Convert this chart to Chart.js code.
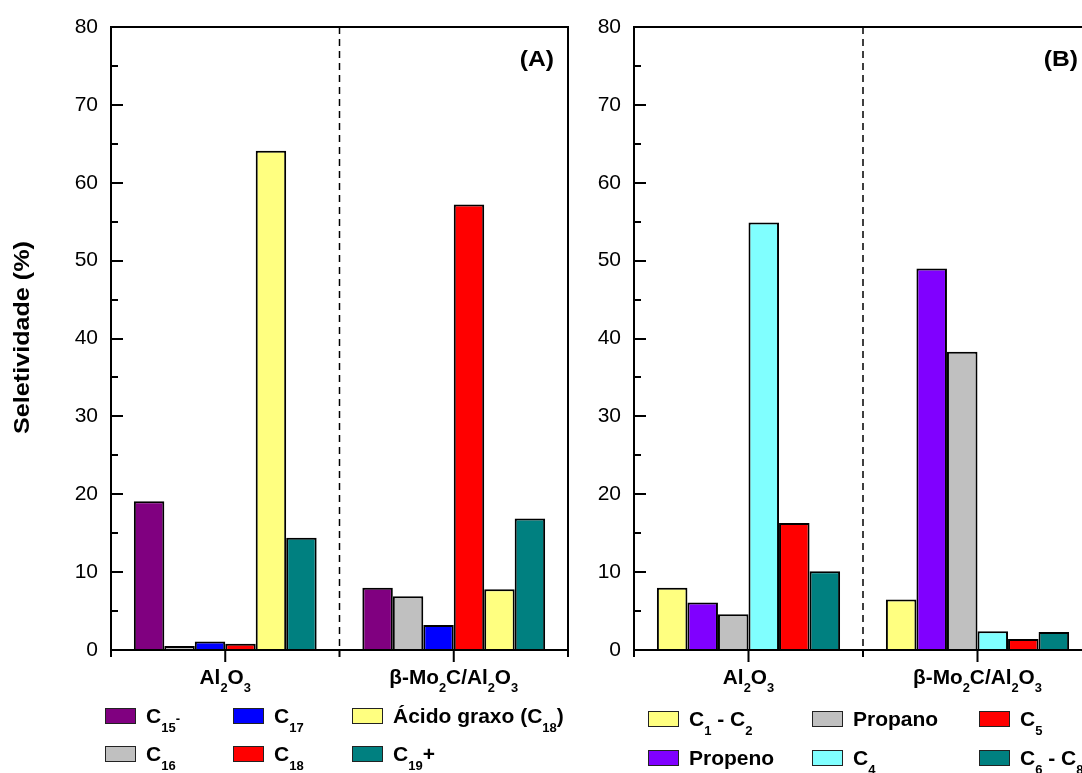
<!DOCTYPE html>
<html>
<head>
<meta charset="utf-8">
<script src="https://cdn.jsdelivr.net/npm/chart.js@4"></script>
<style>
  html, body { margin: 0; padding: 0; background: #fff; }
  body { width: 1082px; height: 773px; overflow: hidden; position: relative; }
  canvas { position: absolute; top: 0; }
  #chartA { left: 0; }
  #chartB { left: 572px; }
</style>
</head>
<body>
<canvas id="chartA" width="572" height="773"></canvas>
<canvas id="chartB" width="530" height="773"></canvas>
<script>
// categories (markup: _{..} subscript, ^{..} raised small text)
const catalysts = ['Al_{2}O_{3}', 'β-Mo_{2}C/Al_{2}O_{3}'];
const yTicks = [0, 10, 20, 30, 40, 50, 60, 70, 80];

// (A) liquid products, selectivity %
const seriesA = ['C_{15}^{-}', 'C_{16}', 'C_{17}', 'C_{18}', 'Ácido graxo (C_{18})', 'C_{19}+'];
const c15A = [19.1, 8.0];
const c16A = [0.5, 6.9];
const c17A = [1.1, 3.2];
const c18A = [0.8, 57.2];
const acidoA = [64.1, 7.8];
const c19A = [14.4, 16.9];

// (B) gas products, selectivity %
const seriesB = ['C_{1} - C_{2}', 'Propeno', 'Propano', 'C_{4}', 'C_{5}', 'C_{6} - C_{8}'];
const c1c2B = [8.0, 6.5];
const propenoB = [6.1, 49.0];
const propanoB = [4.6, 38.3];
const c4B = [54.9, 2.4];
const c5B = [16.3, 1.4];
const c6c8B = [10.1, 2.3];

const colorsA = ['#800080', '#c0c0c0', '#0000ff', '#ff0000', '#ffff80', '#008080'];
const colorsB = ['#ffff80', '#8000ff', '#c0c0c0', '#80ffff', '#ff0000', '#008080'];

const FONT = '"Liberation Sans", Arial, sans-serif';

function parseRich(s) {
  const out = [];
  const re = /([_^])\{([^}]*)\}/g;
  let last = 0, m;
  while ((m = re.exec(s))) {
    if (m.index > last) out.push({t: s.slice(last, m.index), m: 'n'});
    out.push({t: m[2], m: m[1] === '_' ? 'sub' : 'sup'});
    last = re.lastIndex;
  }
  if (last < s.length) out.push({t: s.slice(last), m: 'n'});
  return out;
}

// draws text with subscripts; align left/center/right, sx = horizontal stretch
function drawRich(ctx, s, x, y, size, bold, align, sx) {
  sx = sx || 1;
  const parts = parseRich(s);
  const w = bold ? 'bold ' : '';
  const small = size * 0.62;
  let total = 0;
  parts.forEach(p => {
    ctx.font = w + (p.m === 'n' ? size : small) + 'px ' + FONT;
    p.w = ctx.measureText(p.t).width;
    total += p.w;
  });
  ctx.save();
  ctx.translate(x, y);
  ctx.scale(sx, 1);
  let cx = align === 'center' ? -total / 2 : align === 'right' ? -total : 0;
  ctx.fillStyle = '#000';
  ctx.textAlign = 'left';
  ctx.textBaseline = 'alphabetic';
  parts.forEach(p => {
    ctx.font = w + (p.m === 'n' ? size : small) + 'px ' + FONT;
    const dy = p.m === 'sub' ? size * 0.42 : 0;
    ctx.fillText(p.t, cx, dy);
    cx += p.w;
  });
  ctx.restore();
  return total;
}

function panelPlugin(cfg) {
  return {
    id: 'panel',
    afterDraw(chart) {
      const ctx = chart.ctx;
      const a = chart.chartArea;
      const xs = chart.scales.x;
      const ys = chart.scales.y;
      ctx.save();
      ctx.strokeStyle = '#000';
      ctx.lineWidth = 2;
      ctx.strokeRect(a.left, a.top, a.right - a.left, a.bottom - a.top);

      // inward y ticks, major every 10 and minor every 5
      ctx.beginPath();
      for (let v = ys.min; v <= ys.max; v += 5) {
        const py = Math.round(ys.getPixelForValue(v));
        const len = v % 10 === 0 ? 12 : 7;
        ctx.moveTo(a.left, py);
        ctx.lineTo(a.left + len, py);
      }
      // outward x ticks at category centres and borders
      const n = chart.data.labels.length;
      const bounds = [a.left, a.right];
      for (let i = 0; i < n; i++) {
        const cxp = xs.getPixelForValue(i);
        ctx.moveTo(cxp, a.bottom);
        ctx.lineTo(cxp, a.bottom + 12);
        if (i < n - 1) bounds.push((cxp + xs.getPixelForValue(i + 1)) / 2);
      }
      bounds.forEach(bx => {
        ctx.moveTo(bx, a.bottom);
        ctx.lineTo(bx, a.bottom + 7);
      });
      ctx.stroke();

      // dashed separators between catalysts
      ctx.lineWidth = 1.5;
      ctx.setLineDash([7, 5]);
      ctx.beginPath();
      bounds.slice(2).forEach(bx => {
        ctx.moveTo(bx, a.top);
        ctx.lineTo(bx, a.bottom);
      });
      ctx.stroke();
      ctx.setLineDash([]);

      // category labels
      chart.data.labels.forEach((lab, i) => {
        drawRich(ctx, lab, xs.getPixelForValue(i), a.bottom + 34, 20, true, 'center', 1.04);
      });

      // panel letter
      drawRich(ctx, cfg.letter, a.right - 14, a.top + 39, 22, true, 'right', 1.12);

      // legend, two rows filled column by column
      ctx.lineWidth = 1;
      chart.data.datasets.forEach((ds, i) => {
        const col = Math.floor(i / 2), row = i % 2;
        const sx = a.left + cfg.legendCols[col];
        const sy = cfg.legendRows[row];
        ctx.fillStyle = ds.backgroundColor;
        ctx.fillRect(sx, sy, 30, 15);
        ctx.strokeStyle = '#222';
        ctx.strokeRect(sx + 0.5, sy + 0.5, 30, 15);
        drawRich(ctx, ds.label, sx + 41, sy + 15, 21, true, 'left');
      });

      if (cfg.yTitle) {
        ctx.save();
        ctx.translate(29, (a.top + a.bottom) / 2 - 1);
        ctx.rotate(-Math.PI / 2);
        ctx.font = 'bold 22px ' + FONT;
        const tw = ctx.measureText(cfg.yTitle).width;
        drawRich(ctx, cfg.yTitle, 0, 0, 22, true, 'center', 193 / tw);
        ctx.restore();
      }
      ctx.restore();
    }
  };
}

function makeChart(id, series, values, colors, cfg) {
  const ctx = document.getElementById(id).getContext('2d');
  return new Chart(ctx, {
    type: 'bar',
    data: {
      labels: catalysts,
      datasets: series.map((name, i) => ({
        label: name,
        data: values[i],
        backgroundColor: colors[i],
        borderColor: '#000',
        borderWidth: 2,
        categoryPercentage: 0.8,
        barPercentage: 1.0
      }))
    },
    options: {
      responsive: false,
      animation: false,
      layout: {padding: {left: 0, top: 27, right: cfg.padRight, bottom: 123}},
      plugins: {legend: {display: false}, tooltip: {enabled: false}},
      scales: {
        x: {display: false},
        y: {
          min: 0,
          max: 80,
          afterBuildTicks: s => { s.ticks = yTicks.map(v => ({value: v})); },
          afterFit: s => { s.width = cfg.axisWidth; },
          ticks: {padding: 13, color: '#000', font: {family: FONT, size: 21}},
          grid: {display: false, drawTicks: false},
          border: {display: false}
        }
      }
    },
    plugins: [panelPlugin(cfg)]
  });
}

makeChart('chartA', seriesA, [c15A, c16A, c17A, c18A, acidoA, c19A], colorsA, {
  letter: '(A)', yTitle: 'Seletividade (%)', axisWidth: 111, padRight: 4,
  legendCols: [-6, 122, 241], legendRows: [708, 746]
});
makeChart('chartB', seriesB, [c1c2B, propenoB, propanoB, c4B, c5B, c6c8B], colorsB, {
  letter: '(B)', yTitle: null, axisWidth: 62, padRight: 10,
  legendCols: [14, 178, 345], legendRows: [711, 750]
});
</script>
</body>
</html>
